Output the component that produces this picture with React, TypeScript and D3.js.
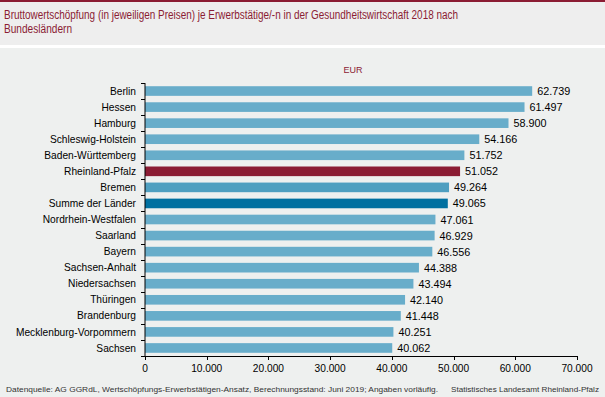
import React from "react";
import * as d3 from "d3";

const categories = [
  "Berlin", "Hessen", "Hamburg", "Schleswig-Holstein", "Baden-Württemberg",
  "Rheinland-Pfalz", "Bremen", "Summe der Länder", "Nordrhein-Westfalen",
  "Saarland", "Bayern", "Sachsen-Anhalt", "Niedersachsen", "Thüringen",
  "Brandenburg", "Mecklenburg-Vorpommern", "Sachsen",
];
const values = [
  62739, 61497, 58900, 54166, 51752, 51052, 49264, 49065, 47061, 46929,
  46556, 44388, 43494, 42140, 41448, 40251, 40062,
];
const xTicks = [0, 10000, 20000, 30000, 40000, 50000, 60000, 70000];
const titleLines = [
  "Bruttowertschöpfung (in jeweiligen Preisen) je Erwerbstätige/-n in der Gesundheitswirtschaft 2018 nach",
  "Bundesländern",
];
const unitLabel = "EUR";
const sourceText =
  "Datenquelle: AG GGRdL, Wertschöpfungs-Erwerbstätigen-Ansatz, Berechnungsstand: Juni 2019; Angaben vorläufig.";
const publisherText = "Statistisches Landesamt Rheinland-Pfalz";

const W = 605;
const H = 397;
const CRIMSON = "#8b1c33";
const fmt = (v: number) => d3.format(",.0f")(v).replace(/,/g, ".");

function colorFor(c: string) {
  if (c === "Rheinland-Pfalz") return CRIMSON;
  if (c === "Summe der Länder") return "#0070a0";
  if (c === "Bremen") return "#4f9fc0";
  return "#68adca";
}

export default function App() {
  const x = d3.scaleLinear().domain([0, 70000]).range([145, 577]);
  const y = d3.scaleBand().domain(categories).range([83, 356]).paddingInner(0.4).paddingOuter(0.2);
  const x0 = x(0);
  const font = "'Liberation Sans', Arial, sans-serif";
  return (
    <svg
      width={W}
      height={H}
      style={{ position: "absolute", left: 0, top: 0, fontFamily: font }}
    >
      <rect x={0} y={0} width={W} height={H} fill="#eef0ef" />
      <rect x={0} y={0} width={W} height={45} fill="#eeeeee" />
      <rect x={0} y={0} width={W} height={2} fill={CRIMSON} />
      <rect x={0} y={45} width={W} height={3} fill="#ffffff" />
      <text x={4} y={19} fontSize={12} fill={CRIMSON} textLength={454} lengthAdjust="spacingAndGlyphs">
        {titleLines[0]}
      </text>
      <text x={4} y={33} fontSize={12} fill={CRIMSON} textLength={68} lengthAdjust="spacingAndGlyphs">
        {titleLines[1]}
      </text>
      <text x={353} y={73} fontSize={9} fill={CRIMSON} textAnchor="middle">
        {unitLabel}
      </text>

      {categories.map((c, i) => (
        <g key={c}>
          <rect
            x={x0}
            y={y(c)!}
            width={x(values[i]) - x0}
            height={y.bandwidth()}
            fill={colorFor(c)}
          />
          <text
            x={x(values[i]) + 5}
            y={y(c)! + y.bandwidth() / 2 + 4}
            fontSize={10.8}
            fill="#000"
          >
            {fmt(values[i])}
          </text>
          <text
            x={136}
            y={y(c)! + y.bandwidth() / 2 + 3.6}
            fontSize={10.2}
            textAnchor="end"
            fill="#000"
          >
            {c}
          </text>
        </g>
      ))}

      {/* y axis */}
      <line x1={x0} x2={x0} y1={83} y2={356} stroke="#000" strokeWidth={1} />
      {d3.range(categories.length + 1).map((k) => {
        const yy = Math.round(83 + k * ((356 - 83) / categories.length)) + 0.5;
        return <line key={k} x1={x0 - 4} x2={x0} y1={yy} y2={yy} stroke="#000" />;
      })}

      {/* x axis */}
      <line x1={x0} x2={x(70000)} y1={356.5} y2={356.5} stroke="#000" />
      {xTicks.map((t) => (
        <g key={t}>
          <line x1={Math.round(x(t)) + 0.5} x2={Math.round(x(t)) + 0.5} y1={356} y2={360} stroke="#000" />
          <text x={x(t)} y={372} fontSize={10.2} textAnchor="middle" fill="#000">
            {fmt(t)}
          </text>
        </g>
      ))}

      <text x={6} y={392} fontSize={8} fill="#333" textLength={432} lengthAdjust="spacingAndGlyphs">
        {sourceText}
      </text>
      <text x={451} y={392} fontSize={8} fill="#333" textLength={148} lengthAdjust="spacingAndGlyphs">
        {publisherText}
      </text>
    </svg>
  );
}
